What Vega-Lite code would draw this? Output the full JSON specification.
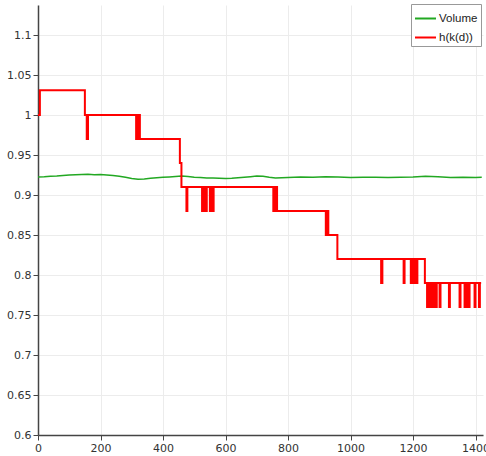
{
  "$schema": "https://vega.github.io/schema/vega-lite/v6.json",
  "width": 445,
  "height": 430,
  "autosize": {"type": "none"},
  "padding": {"left": 38, "top": 5, "right": 3, "bottom": 21},
  "background": "white",
  "config": {"view": {"stroke": null}, "font": "DejaVu Sans"},
  "data": {"values": [
    {"series": "Volume", "x": 0, "y": 0.9225},
    {"series": "Volume", "x": 20, "y": 0.9228},
    {"series": "Volume", "x": 40, "y": 0.9234},
    {"series": "Volume", "x": 60, "y": 0.9238},
    {"series": "Volume", "x": 80, "y": 0.9244},
    {"series": "Volume", "x": 100, "y": 0.9249},
    {"series": "Volume", "x": 120, "y": 0.9252},
    {"series": "Volume", "x": 140, "y": 0.9256},
    {"series": "Volume", "x": 160, "y": 0.9258},
    {"series": "Volume", "x": 180, "y": 0.9254},
    {"series": "Volume", "x": 200, "y": 0.9256},
    {"series": "Volume", "x": 220, "y": 0.9251},
    {"series": "Volume", "x": 240, "y": 0.9244},
    {"series": "Volume", "x": 260, "y": 0.9234},
    {"series": "Volume", "x": 280, "y": 0.9221},
    {"series": "Volume", "x": 300, "y": 0.9207},
    {"series": "Volume", "x": 320, "y": 0.9198},
    {"series": "Volume", "x": 340, "y": 0.9201},
    {"series": "Volume", "x": 360, "y": 0.9209},
    {"series": "Volume", "x": 380, "y": 0.9216},
    {"series": "Volume", "x": 400, "y": 0.9221},
    {"series": "Volume", "x": 420, "y": 0.9226},
    {"series": "Volume", "x": 440, "y": 0.9231},
    {"series": "Volume", "x": 460, "y": 0.9236},
    {"series": "Volume", "x": 480, "y": 0.9231},
    {"series": "Volume", "x": 500, "y": 0.9223},
    {"series": "Volume", "x": 520, "y": 0.9219},
    {"series": "Volume", "x": 540, "y": 0.9214},
    {"series": "Volume", "x": 560, "y": 0.9211},
    {"series": "Volume", "x": 580, "y": 0.9208},
    {"series": "Volume", "x": 600, "y": 0.9205},
    {"series": "Volume", "x": 620, "y": 0.9209},
    {"series": "Volume", "x": 640, "y": 0.9216},
    {"series": "Volume", "x": 660, "y": 0.9222},
    {"series": "Volume", "x": 680, "y": 0.9229},
    {"series": "Volume", "x": 700, "y": 0.9237},
    {"series": "Volume", "x": 720, "y": 0.9233},
    {"series": "Volume", "x": 740, "y": 0.9222},
    {"series": "Volume", "x": 760, "y": 0.9214},
    {"series": "Volume", "x": 780, "y": 0.9217},
    {"series": "Volume", "x": 800, "y": 0.9219},
    {"series": "Volume", "x": 840, "y": 0.9224},
    {"series": "Volume", "x": 880, "y": 0.9221},
    {"series": "Volume", "x": 920, "y": 0.9228},
    {"series": "Volume", "x": 960, "y": 0.9224},
    {"series": "Volume", "x": 1000, "y": 0.9218},
    {"series": "Volume", "x": 1040, "y": 0.9221},
    {"series": "Volume", "x": 1080, "y": 0.9223},
    {"series": "Volume", "x": 1120, "y": 0.9219},
    {"series": "Volume", "x": 1160, "y": 0.9222},
    {"series": "Volume", "x": 1200, "y": 0.9226},
    {"series": "Volume", "x": 1240, "y": 0.9235},
    {"series": "Volume", "x": 1280, "y": 0.9227},
    {"series": "Volume", "x": 1320, "y": 0.9219},
    {"series": "Volume", "x": 1360, "y": 0.9222},
    {"series": "Volume", "x": 1400, "y": 0.9219},
    {"series": "Volume", "x": 1420, "y": 0.9221},
    {"series": "h(k(d))", "x": 0, "y": 1.0},
    {"series": "h(k(d))", "x": 6, "y": 1.031},
    {"series": "h(k(d))", "x": 150, "y": 1.0},
    {"series": "h(k(d))", "x": 156, "y": 0.97},
    {"series": "h(k(d))", "x": 160, "y": 1.0},
    {"series": "h(k(d))", "x": 314, "y": 0.97},
    {"series": "h(k(d))", "x": 316, "y": 1.0},
    {"series": "h(k(d))", "x": 318, "y": 0.97},
    {"series": "h(k(d))", "x": 320, "y": 1.0},
    {"series": "h(k(d))", "x": 322, "y": 0.97},
    {"series": "h(k(d))", "x": 324, "y": 1.0},
    {"series": "h(k(d))", "x": 326, "y": 0.97},
    {"series": "h(k(d))", "x": 454, "y": 0.94},
    {"series": "h(k(d))", "x": 459, "y": 0.91},
    {"series": "h(k(d))", "x": 475, "y": 0.88},
    {"series": "h(k(d))", "x": 478, "y": 0.91},
    {"series": "h(k(d))", "x": 525, "y": 0.88},
    {"series": "h(k(d))", "x": 528, "y": 0.91},
    {"series": "h(k(d))", "x": 531, "y": 0.88},
    {"series": "h(k(d))", "x": 534, "y": 0.91},
    {"series": "h(k(d))", "x": 537, "y": 0.88},
    {"series": "h(k(d))", "x": 540, "y": 0.91},
    {"series": "h(k(d))", "x": 550, "y": 0.88},
    {"series": "h(k(d))", "x": 553, "y": 0.91},
    {"series": "h(k(d))", "x": 558, "y": 0.88},
    {"series": "h(k(d))", "x": 562, "y": 0.91},
    {"series": "h(k(d))", "x": 753, "y": 0.88},
    {"series": "h(k(d))", "x": 756, "y": 0.91},
    {"series": "h(k(d))", "x": 759, "y": 0.88},
    {"series": "h(k(d))", "x": 762, "y": 0.91},
    {"series": "h(k(d))", "x": 765, "y": 0.88},
    {"series": "h(k(d))", "x": 921, "y": 0.85},
    {"series": "h(k(d))", "x": 923, "y": 0.88},
    {"series": "h(k(d))", "x": 925, "y": 0.85},
    {"series": "h(k(d))", "x": 927, "y": 0.88},
    {"series": "h(k(d))", "x": 929, "y": 0.85},
    {"series": "h(k(d))", "x": 958, "y": 0.82},
    {"series": "h(k(d))", "x": 1098, "y": 0.79},
    {"series": "h(k(d))", "x": 1102, "y": 0.82},
    {"series": "h(k(d))", "x": 1170, "y": 0.79},
    {"series": "h(k(d))", "x": 1173, "y": 0.82},
    {"series": "h(k(d))", "x": 1193, "y": 0.79},
    {"series": "h(k(d))", "x": 1196, "y": 0.82},
    {"series": "h(k(d))", "x": 1198, "y": 0.79},
    {"series": "h(k(d))", "x": 1201, "y": 0.82},
    {"series": "h(k(d))", "x": 1206, "y": 0.79},
    {"series": "h(k(d))", "x": 1209, "y": 0.82},
    {"series": "h(k(d))", "x": 1211, "y": 0.79},
    {"series": "h(k(d))", "x": 1214, "y": 0.82},
    {"series": "h(k(d))", "x": 1238, "y": 0.79},
    {"series": "h(k(d))", "x": 1245, "y": 0.76},
    {"series": "h(k(d))", "x": 1248, "y": 0.79},
    {"series": "h(k(d))", "x": 1250, "y": 0.76},
    {"series": "h(k(d))", "x": 1253, "y": 0.79},
    {"series": "h(k(d))", "x": 1255, "y": 0.76},
    {"series": "h(k(d))", "x": 1258, "y": 0.79},
    {"series": "h(k(d))", "x": 1260, "y": 0.76},
    {"series": "h(k(d))", "x": 1263, "y": 0.79},
    {"series": "h(k(d))", "x": 1266, "y": 0.76},
    {"series": "h(k(d))", "x": 1269, "y": 0.79},
    {"series": "h(k(d))", "x": 1272, "y": 0.76},
    {"series": "h(k(d))", "x": 1276, "y": 0.79},
    {"series": "h(k(d))", "x": 1285, "y": 0.76},
    {"series": "h(k(d))", "x": 1288, "y": 0.79},
    {"series": "h(k(d))", "x": 1315, "y": 0.76},
    {"series": "h(k(d))", "x": 1318, "y": 0.79},
    {"series": "h(k(d))", "x": 1349, "y": 0.76},
    {"series": "h(k(d))", "x": 1352, "y": 0.79},
    {"series": "h(k(d))", "x": 1365, "y": 0.76},
    {"series": "h(k(d))", "x": 1367, "y": 0.79},
    {"series": "h(k(d))", "x": 1370, "y": 0.76},
    {"series": "h(k(d))", "x": 1372, "y": 0.79},
    {"series": "h(k(d))", "x": 1378, "y": 0.76},
    {"series": "h(k(d))", "x": 1381, "y": 0.79},
    {"series": "h(k(d))", "x": 1397, "y": 0.76},
    {"series": "h(k(d))", "x": 1400, "y": 0.79},
    {"series": "h(k(d))", "x": 1411, "y": 0.76},
    {"series": "h(k(d))", "x": 1414, "y": 0.79},
    {"series": "h(k(d))", "x": 1418, "y": 0.79}
  ]},
  "encoding": {
    "x": {
      "field": "x", "type": "quantitative",
      "scale": {"domain": [0, 1424], "nice": false, "zero": false},
      "axis": {
        "title": null, "values": [0, 200, 400, 600, 800, 1000, 1200, 1400], "format": "d",
        "labelFontSize": 11, "labelColor": "#333", "labelFlush": false,
        "domainColor": "#444", "domainWidth": 1.5, "tickColor": "#444", "tickSize": 5,
        "gridColor": "#ececec", "labelPadding": 2
      }
    },
    "y": {
      "field": "y", "type": "quantitative",
      "scale": {"domain": [0.6, 1.1375], "nice": false, "zero": false},
      "axis": {
        "title": null, "values": [0.6, 0.65, 0.7, 0.75, 0.8, 0.85, 0.9, 0.95, 1.0, 1.05, 1.1],
        "format": ".2~f",
        "labelFontSize": 11, "labelColor": "#333", "labelFlush": false,
        "domainColor": "#444", "domainWidth": 1.5, "tickColor": "#444", "tickSize": 5,
        "gridColor": "#ececec", "labelPadding": 2
      }
    },
    "color": {
      "field": "series", "type": "nominal",
      "scale": {"domain": ["Volume", "h(k(d))"], "range": ["#22a822", "#ff0000"]},
      "legend": {
        "title": null, "orient": "none", "legendX": 373, "legendY": -1,
        "strokeColor": "#999", "fillColor": "white", "padding": 3,
        "symbolType": "stroke", "symbolSize": 441, "symbolStrokeWidth": 2,
        "labelFont": "Liberation Sans", "labelFontSize": 11.5, "labelColor": "#222",
        "labelOffset": 2, "rowPadding": 2
      }
    }
  },
  "layer": [
    {"transform": [{"filter": "datum.series === 'Volume'"}], "mark": {"type": "line", "strokeWidth": 1.5}},
    {"transform": [{"filter": "datum.series === 'h(k(d))'"}], "mark": {"type": "line", "interpolate": "step-after", "strokeWidth": 2}}
  ]
}
